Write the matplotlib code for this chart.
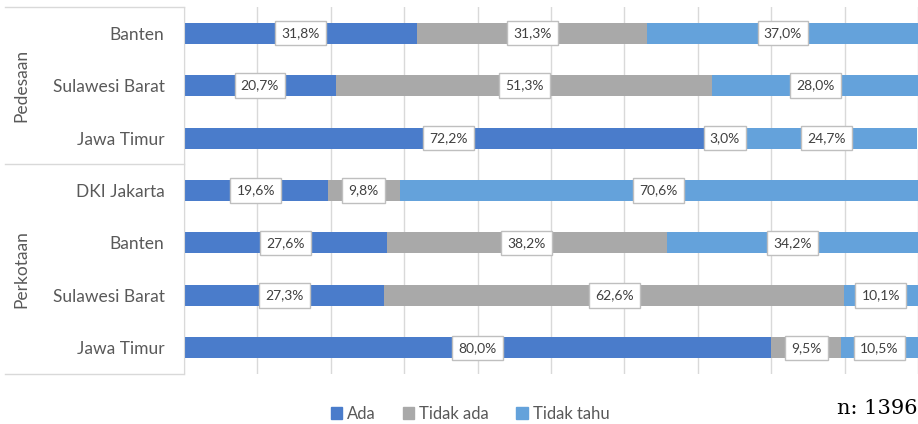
import matplotlib
matplotlib.use("Agg")
import matplotlib.pyplot as plt
from matplotlib.lines import Line2D
from matplotlib.patches import Patch
import numpy as np

plt.rcParams['font.family'] = ['Lato', 'DejaVu Sans']

# data (percent), top to bottom
regions = ['Banten', 'Sulawesi Barat', 'Jawa Timur',
           'DKI Jakarta', 'Banten', 'Sulawesi Barat', 'Jawa Timur']
groups = ['Pedesaan', 'Perkotaan']
group_sizes = [3, 4]
ada = [31.8, 20.7, 72.2, 19.6, 27.6, 27.3, 80.0]
tidak_ada = [31.3, 51.3, 3.0, 9.8, 38.2, 62.6, 9.5]
tidak_tahu = [37.0, 28.0, 24.7, 70.6, 34.2, 10.1, 10.5]
series_names = ['Ada', 'Tidak ada', 'Tidak tahu']
colors = ['#4A7CCB', '#A9A9A9', '#64A2DB']

W, H = 918, 424
fig = plt.figure(figsize=(W / 100, H / 100), dpi=100)
x0, x1 = 184, 918
y0, y1 = 7, 374
ax = fig.add_axes([x0 / W, 1 - y1 / H, (x1 - x0) / W, (y1 - y0) / H])

y = np.arange(len(regions))
left = np.zeros(len(regions))
for vals, col in zip([ada, tidak_ada, tidak_tahu], colors):
    vals = np.array(vals)
    ax.barh(y, vals, left=left, height=0.4, color=col, zorder=2)
    for yi, l, v in zip(y, left, vals):
        ax.text(l + v / 2, yi, ('%.1f%%' % v).replace('.', ','),
                ha='center', va='center', fontsize=10, color='#404040', zorder=3,
                bbox=dict(boxstyle='square,pad=0.45', fc='white', ec='#BFBFBF', lw=1))
    left += vals

ax.set_xlim(0, 100)
ax.set_ylim(len(regions) - 0.5, -0.5)
ax.set_xticks(np.arange(0, 101, 10))
ax.xaxis.grid(True, color='#D9D9D9', lw=1, zorder=0)
ax.tick_params(axis='x', length=0, labelbottom=False)
ax.set_yticks(y)
ax.set_yticklabels(regions, fontsize=12.5, color='#595959')
ax.tick_params(axis='y', length=0, pad=14)
for s in ['top', 'right', 'bottom']:
    ax.spines[s].set_visible(False)
ax.spines['left'].set_color('#D9D9D9')

# grouping box on the left
lc = '#D9D9D9'
xl = 5 / W
xa = x0 / W
fig.add_artist(Line2D([xl, xa], [1 - y0 / H] * 2, color=lc, lw=1))
fig.add_artist(Line2D([xl, xa], [1 - y1 / H] * 2, color=lc, lw=1))
row_h = (y1 - y0) / len(regions)
start = 0
for g, n in zip(groups, group_sizes):
    top = y0 + start * row_h
    bot = y0 + (start + n) * row_h
    if start > 0:
        fig.add_artist(Line2D([xl, xa], [1 - top / H] * 2, color=lc, lw=1))
    fig.text(21 / W, 1 - (top + bot) / 2 / H, g, rotation=90, ha='center',
             va='center', fontsize=12.5, color='#595959')
    start += n

handles = [Patch(color=c) for c in colors]
fig.legend(handles, series_names, loc='center', bbox_to_anchor=(470 / W, 1 - 414 / H),
           ncol=3, frameon=False, fontsize=12, handlelength=0.7, handleheight=0.7,
           handletextpad=0.3, columnspacing=1.6, labelcolor='#595959')

fig.text(0.999, 1 - 408 / H, 'n: 1396', ha='right', va='center',
         fontsize=15, family='DejaVu Serif', color='#000000')

fig.savefig('out.png', dpi=100)
